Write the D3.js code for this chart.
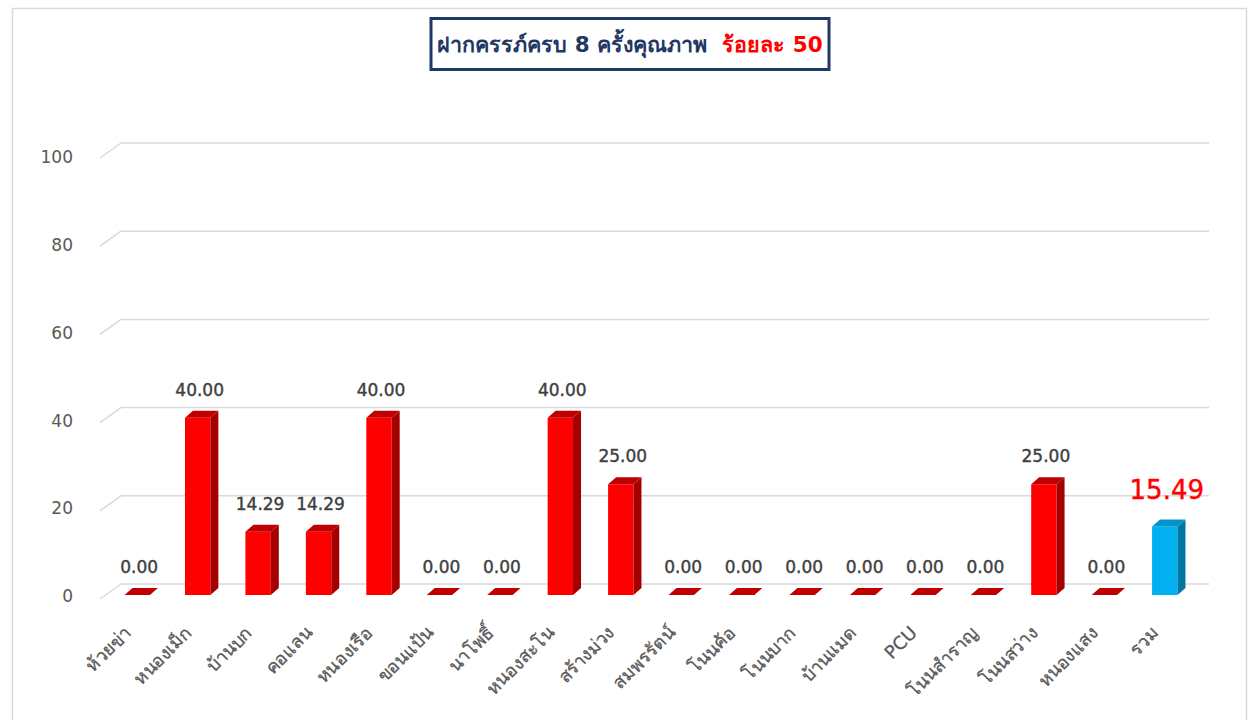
<!DOCTYPE html>
<html>
<head>
    <meta charset="UTF-8">
    <title>ฝากครรภ์ครบ 8 ครั้งคุณภาพ</title>
    <script src="https://d3js.org/d3.v7.min.js"></script>
    <style>
        body { margin: 0; background: #fff; }
        text { font-family: "DejaVu Sans", "Noto Sans", sans-serif; }
    </style>
</head>
<body>
    <svg id="chart"></svg>

    <script>
    // data
    const categories = ["ห้วยข่า", "หนองเม็ก", "บ้านบก", "คอแลน", "หนองเรือ", "ขอนแป้น", "นาโพธิ์",
        "หนองสะโน", "สร้างม่วง", "สมพรรัตน์", "โนนค้อ", "โนนบาก", "บ้านแมด", "PCU", "โนนสำราญ",
        "โนนสว่าง", "หนองแสง", "รวม"];
    const values = [0, 40, 14.29, 14.29, 40, 0, 0, 40, 25, 0, 0, 0, 0, 0, 0, 25, 0, 15.49];
    const yTicks = [0, 20, 40, 60, 80, 100];
    const titleMain = "ฝากครรภ์ครบ 8 ครั้งคุณภาพ";
    const titleTarget = "ร้อยละ 50";

    const width = 1249;
    const height = 720;

    const svg = d3.select("#chart")
        .attr("width", width)
        .attr("height", height);

    // outer chart border
    svg.append("rect")
        .attr("x", 12.5).attr("y", 8.5)
        .attr("width", 1234).attr("height", 730)
        .attr("fill", "none")
        .attr("stroke", "#d9d9d9")
        .attr("stroke-width", 1.5);

    // scales
    const x_scale = d3.scaleBand()
        .domain(categories)
        .range([107, 1195])
        .paddingInner(0.58)
        .paddingOuter(0.29);

    const y_front = d3.scaleLinear().domain([0, 100]).range([595, 152]);
    const y_back = d3.scaleLinear().domain([0, 100]).range([584, 143]);
    const y_label = d3.scaleLinear().domain([0, 100]).range([596, 157]);

    const wallDx = 21, wallDy = 15;   // depth of back wall
    const barDx = 8, barDy = 7;       // depth of a bar

    // back wall gridlines
    const grid = svg.append("g");
    grid.selectAll("line.back")
        .data(yTicks)
        .enter()
        .append("line")
        .attr("x1", 121).attr("x2", 1209)
        .attr("y1", d => y_back(d)).attr("y2", d => y_back(d))
        .attr("stroke", "#d9d9d9")
        .attr("stroke-width", 1.5);
    grid.selectAll("line.side")
        .data(yTicks)
        .enter()
        .append("line")
        .attr("x1", 121 - wallDx).attr("x2", 121)
        .attr("y1", d => y_back(d) + wallDy).attr("y2", d => y_back(d))
        .attr("stroke", "#d9d9d9")
        .attr("stroke-width", 1.5);

    // y tick labels
    svg.append("g").selectAll("text")
        .data(yTicks)
        .enter()
        .append("text")
        .attr("x", 73)
        .attr("y", d => y_label(d))
        .attr("dy", "0.36em")
        .attr("text-anchor", "end")
        .attr("font-size", 17)
        .attr("fill", "#595959")
        .text(d => d);

    // bars
    const bars = svg.append("g").selectAll("g")
        .data(values.map((v, i) => ({ cat: categories[i], v: v, total: i === categories.length - 1 })))
        .enter()
        .append("g");

    const colors = d => d.total
        ? { front: "#00b0f0", side: "#0076a3", top: "#0094cc" }
        : { front: "#ff0000", side: "#a50000", top: "#c00000" };

    bars.each(function (d) {
        const g = d3.select(this);
        const x0 = x_scale(d.cat);
        const w = x_scale.bandwidth();
        const yb = y_front(0);
        const yt = y_front(d.v);
        const c = colors(d);
        if (d.v > 0) {
            g.append("rect")
                .attr("x", x0).attr("y", yt)
                .attr("width", w).attr("height", yb - yt)
                .attr("fill", c.front);
            g.append("polygon")
                .attr("points", [[x0 + w, yb], [x0 + w + barDx, yb - barDy], [x0 + w + barDx, yt - barDy], [x0 + w, yt]].join(" "))
                .attr("fill", c.side);
        }
        g.append("polygon")
            .attr("points", [[x0, yt], [x0 + barDx, yt - barDy], [x0 + w + barDx, yt - barDy], [x0 + w, yt]].join(" "))
            .attr("fill", c.top);
    });

    // value labels
    bars.append("text")
        .attr("x", d => x_scale(d.cat) + x_scale.bandwidth() / 2 + 2)
        .attr("y", d => y_front(d.v) - (d.total ? 27 : 22))
        .attr("text-anchor", "middle")
        .attr("font-size", d => d.total ? 26 : 17)
        .attr("fill", d => d.total ? "#ff0000" : "#404040")
        .attr("stroke", d => d.total ? "#ff0000" : "#404040")
        .attr("stroke-width", 0.4)
        .text(d => d.v.toFixed(2));

    // category labels, rotated
    svg.append("g").selectAll("text")
        .data(categories)
        .enter()
        .append("text")
        .attr("transform", d => `translate(${x_scale(d) + x_scale.bandwidth() / 2 - 5}, 634)rotate(-45)`)
        .attr("text-anchor", "end")
        .attr("font-size", 18)
        .attr("fill", "#595959")
        .attr("stroke", "#595959")
        .attr("stroke-width", 0.3)
        .text(d => d);

    // title box
    svg.append("rect")
        .attr("x", 431).attr("y", 18.5)
        .attr("width", 398).attr("height", 51)
        .attr("fill", "#fff")
        .attr("stroke", "#1f3864")
        .attr("stroke-width", 3);

    const title = svg.append("text")
        .attr("x", 630)
        .attr("y", 52)
        .attr("text-anchor", "middle")
        .attr("font-size", 21.5)
        .attr("font-weight", "bold")
        .style("white-space", "pre");
    title.append("tspan").attr("fill", "#1f3864").text(titleMain + "\u00a0\u00a0");
    title.append("tspan").attr("fill", "#ff0000").text(titleTarget);
    </script>
</body>
</html>
